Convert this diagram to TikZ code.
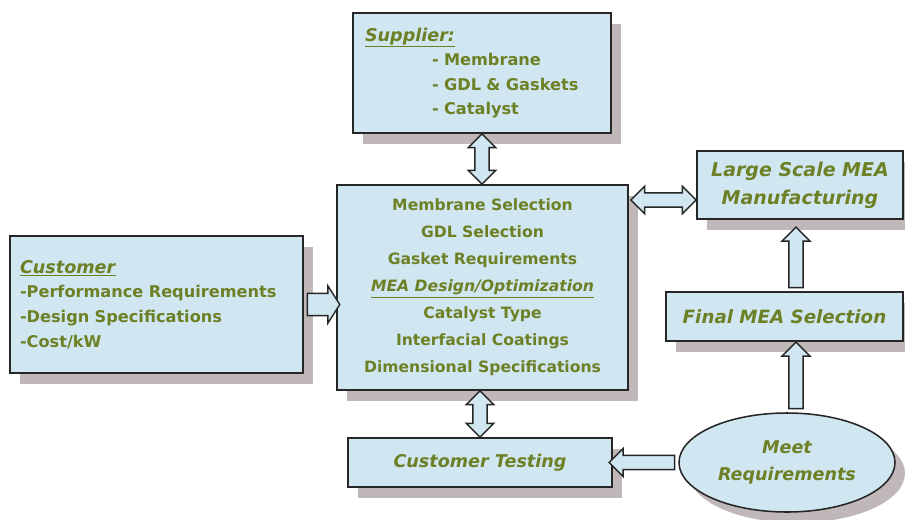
\documentclass[tikz,border=0pt]{standalone}
\usepackage{fontspec}
\setmainfont{DejaVu Sans}
\usepackage{tikz}
\usetikzlibrary{shapes.geometric, shapes.arrows, shadows, calc}
\definecolor{boxfill}{RGB}{208,231,241}
\definecolor{boxshade}{RGB}{192,184,184}
\definecolor{txtgreen}{RGB}{110,128,38}
\tikzset{
  box/.style={draw=black!85, line width=1.1pt, fill=boxfill, inner sep=0pt, text=txtgreen,
    font=\fontsize{11.5}{17.5}\selectfont\bfseries,
    drop shadow={shadow xshift=0.25cm, shadow yshift=-0.27cm, fill=boxshade, opacity=1}},
  itbox/.style={box, font=\fontsize{13.5}{20}\selectfont\bfseries\itshape},
  blkarr/.style={single arrow, draw=black!85, line width=1pt, fill=boxfill, inner xsep=0pt,
    inner ysep=0.16cm, minimum width=0pt, single arrow head extend=0.17cm, sloped, allow upside down},
  dblarr/.style={double arrow, draw=black!85, line width=1pt, fill=boxfill, inner xsep=0pt,
    inner ysep=0.16cm, minimum width=0pt, double arrow head extend=0.17cm, sloped, allow upside down}
}
% block arrow stretched between two named points
\newcommand{\arrowfit}[3]{\path let \p1=($(#3)-(#2)$), \n1={veclen(\x1,\y1)} in
  (#2) -- node[#1, minimum height=\n1] {} (#3);}

\begin{document}
\begin{tikzpicture}
\useasboundingbox (0,0) rectangle (22.625,-12.975);
% ======== boxes ========
\node[box, align=left, text width=5.85cm, inner xsep=0.3cm, minimum height=3cm] (sup) at (12.05,-1.825)
  {{\fontsize{12.5}{17.5}\selectfont\underline{\textit{Supplier:}}}\\
   \hspace*{1.675cm}- Membrane\\
   \hspace*{1.675cm}- GDL \& Gaskets\\
   \hspace*{1.675cm}- Catalyst};
\node[box, align=center, minimum width=7.275cm, minimum height=5.125cm,
  font=\fontsize{11.1}{19.2}\selectfont\bfseries] (mea) at (12.0625,-7.1875)
  {Membrane Selection\\ GDL Selection\\ Gasket Requirements\\
   \underline{\textit{MEA Design/Optimization}}\\
   Catalyst Type\\ Interfacial Coatings\\ Dimensional Specifications};
\node[box, align=left, text width=6.825cm, inner xsep=0.25cm, minimum height=3.425cm] (cust) at (3.9125,-7.6125)
  {{\fontsize{12.5}{17.5}\selectfont\underline{\textit{Customer}}}\\ -Performance Requirements\\ -Design Specifications\\ -Cost/kW};
\node[itbox, align=center, minimum width=5.15cm, minimum height=1.7cm] (large) at (20.0,-4.625)
  {Large Scale MEA\\ Manufacturing};
\node[itbox, minimum width=5.925cm, minimum height=1.225cm,
  font=\fontsize{13}{20}\selectfont\bfseries\itshape] (final) at (19.6125,-7.9125) {Final MEA Selection};
\node[itbox, minimum width=6.6cm, minimum height=1.225cm,
  font=\fontsize{12.5}{20}\selectfont\bfseries\itshape] (test) at (12.0,-11.5625) {Customer Testing};
\node[itbox, ellipse, align=center, minimum width=5.4cm, minimum height=2.475cm,
  font=\fontsize{12.5}{19.5}\selectfont\bfseries\itshape] (meet) at (19.675,-11.5625) {Meet\\ Requirements};
% ======== connectors ========
\coordinate (a1e) at (sup.south |- mea.north);
\coordinate (a2s) at (test.north |- mea.south);
\coordinate (a3e) at (cust.east -| mea.west);
\coordinate (a4e) at ([yshift=-0.375cm]large.west);
\coordinate (a4s) at ([xshift=0.05cm]a4e -| mea.east);
\coordinate (a5e) at ([xshift=-0.1cm, yshift=-0.275cm]large.south);
\coordinate (a5s) at (a5e |- final.north);
\coordinate (a6s) at (a5e |- meet.north);
\coordinate (a6e) at ([yshift=-0.1cm]a5e |- final.south);
\coordinate (a7e) at (meet.west -| test.east);
\arrowfit{dblarr}{sup.south}{a1e}
\arrowfit{dblarr}{a2s}{test.north}
\arrowfit{blkarr, inner ysep=0.26cm, single arrow head extend=0.19cm, single arrow tip angle=115}{cust.east}{a3e}
\arrowfit{dblarr}{a4s}{a4e}
\arrowfit{blkarr}{a5s}{a5e}
\arrowfit{blkarr}{a6s}{a6e}
\arrowfit{blkarr}{meet.west}{a7e}
\end{tikzpicture}
\end{document}
